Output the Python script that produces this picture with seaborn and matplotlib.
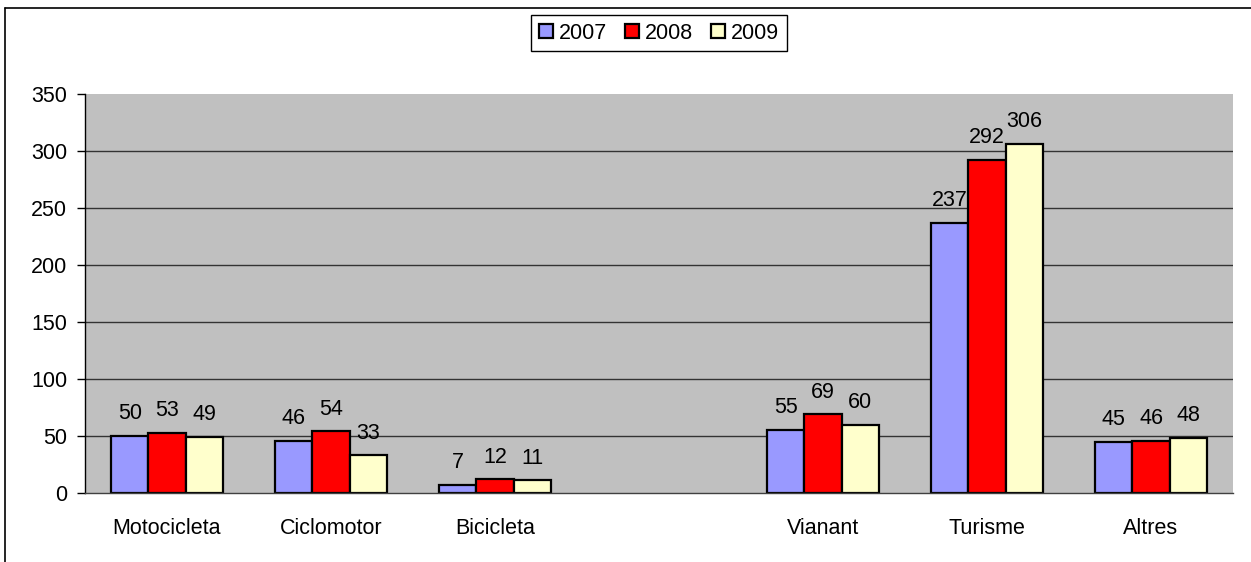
import pandas as pd
import numpy as np
import matplotlib.pyplot as plt
import seaborn as sns

# data
categories = ["Motocicleta", "Ciclomotor", "Bicicleta", "", "Vianant", "Turisme", "Altres"]
years = ["2007", "2008", "2009"]
v2007 = [50, 46, 7, None, 55, 237, 45]
v2008 = [53, 54, 12, None, 69, 292, 46]
v2009 = [49, 33, 11, None, 60, 306, 48]
colors = ["#9999FF", "#FF0000", "#FFFFCC"]

rows = []
for year, vals in zip(years, [v2007, v2008, v2009]):
    for cat, v in zip(categories, vals):
        if v is not None:
            rows.append({"Categoria": cat, "Any": year, "Valor": v})
df = pd.DataFrame(rows)

sns.set_style("white")
plt.rcParams["font.family"] = ["Liberation Sans", "DejaVu Sans"]
plt.rcParams["text.color"] = "black"
plt.rcParams["xtick.color"] = "black"
plt.rcParams["ytick.color"] = "black"
FS = 15.5

fig = plt.figure(figsize=(12.51, 5.62), dpi=100)
ax = fig.add_axes([85 / 1251, 1 - 493 / 562, 1148 / 1251, 399 / 562])
ax.set_facecolor("#C0C0C0")

sns.barplot(data=df, x="Categoria", y="Valor", hue="Any", order=categories,
            hue_order=years, palette=colors, width=0.68, gap=0,
            edgecolor="black", linewidth=1.6, saturation=1, ax=ax)

for cont in ax.containers:
    ax.bar_label(cont, fmt="%d", padding=8.5, fontsize=FS, color="black")

ax.set_xlim(-0.5, len(categories) - 0.5)
ax.set_ylim(0, 350)
ax.set_yticks(range(0, 351, 50))
ax.set_xlabel("")
ax.set_ylabel("")

# grid lines between 50 and 300 only
ax.yaxis.grid(True, color="#333333", linewidth=1)
ax.set_axisbelow(True)
gl = ax.yaxis.get_gridlines()
gl[0].set_visible(False)
gl[-1].set_visible(False)

for s in ["top", "right"]:
    ax.spines[s].set_visible(False)
ax.spines["left"].set_color("black")
ax.spines["left"].set_linewidth(1)
ax.spines["bottom"].set_color("#404040")
ax.spines["bottom"].set_linewidth(1)

ax.set_xticks(np.arange(-0.5, len(categories), 1), minor=True)
ax.tick_params(axis="x", which="major", length=0, pad=18, labelsize=FS, labelcolor="black")
ax.tick_params(axis="x", which="minor", length=5.5, width=1, color="#404040", direction="out")
ax.tick_params(axis="y", length=5.8, width=1, color="black", direction="out", pad=7,
               labelsize=FS, labelcolor="black", left=True)

ax.legend(loc="upper center", bbox_to_anchor=(659 / 1251, 1 - 15 / 562),
          bbox_transform=fig.transFigure, ncol=3, fontsize=FS, frameon=True,
          fancybox=False, edgecolor="black", framealpha=1, borderaxespad=0,
          handlelength=0.65, handleheight=0.65, handletextpad=0.3,
          columnspacing=0.8, borderpad=0.35, title=None)
leg = ax.get_legend()
leg.get_frame().set_linewidth(1)
for h in leg.legend_handles:
    h.set_edgecolor("black")
    h.set_linewidth(1.6)
for t in leg.get_texts():
    t.set_color("black")

# outer chart border (top and left visible)
fig.add_artist(plt.Line2D([5 / 1251, 1.0], [1 - 8 / 562, 1 - 8 / 562], color="black", lw=1.2, transform=fig.transFigure))
fig.add_artist(plt.Line2D([5 / 1251, 5 / 1251], [0, 1 - 8 / 562], color="black", lw=1.2, transform=fig.transFigure))

fig.savefig("out.png", dpi=100)
